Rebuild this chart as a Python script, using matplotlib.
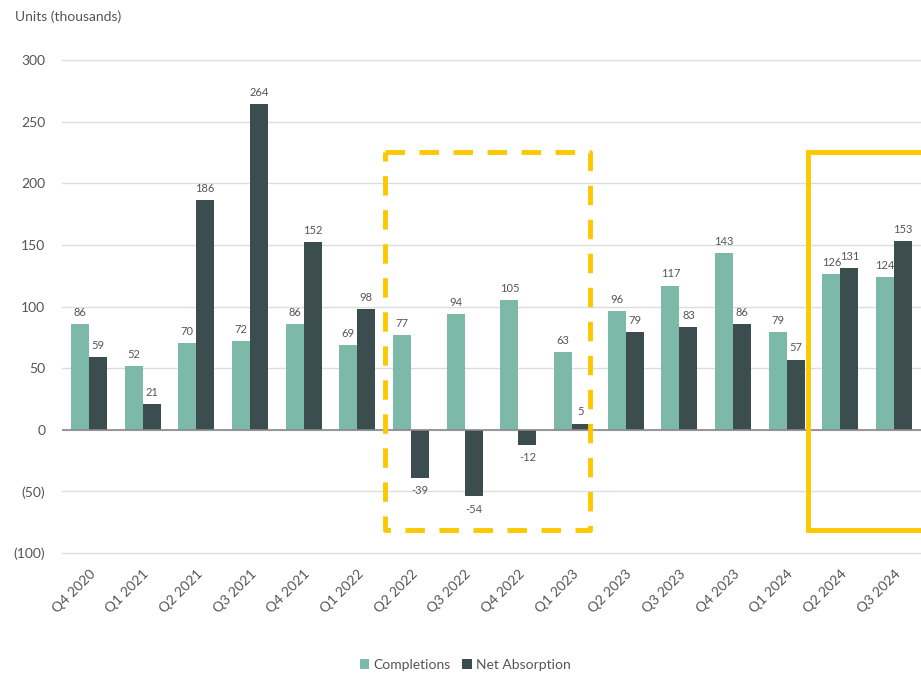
import matplotlib
matplotlib.use("Agg")
import matplotlib.pyplot as plt
import numpy as np

categories = ["Q4 2020", "Q1 2021", "Q2 2021", "Q3 2021", "Q4 2021", "Q1 2022",
              "Q2 2022", "Q3 2022", "Q4 2022", "Q1 2023", "Q2 2023", "Q3 2023",
              "Q4 2023", "Q1 2024", "Q2 2024", "Q3 2024"]
completions = [86, 52, 70, 72, 86, 69, 77, 94, 105, 63, 96, 117, 143, 79, 126, 124]
net_absorption = [59, 21, 186, 264, 152, 98, -39, -54, -12, 5, 79, 83, 86, 57, 131, 153]
yticks = [-100, -50, 0, 50, 100, 150, 200, 250, 300]
ytick_labels = ["(100)", "(50)", "0", "50", "100", "150", "200", "250", "300"]

plt.rcParams['font.family'] = ['Lato', 'DejaVu Sans']

c_comp = "#7db9a8"
c_net = "#3c4d4f"
yellow = "#fcc800"
txt = "#555555"

fig = plt.figure(figsize=(9.21, 6.74), dpi=100)
ax = fig.add_axes([62/921, 119/674, 859/921, 497/674])

x = np.arange(len(categories))
w = 0.335
ax.bar(x - w/2, completions, w, color=c_comp, label="Completions", zorder=3)
ax.bar(x + w/2, net_absorption, w, color=c_net, label="Net Absorption", zorder=3)

for i, v in enumerate(completions):
    ax.text(x[i] - w/2, v + 5, str(v), ha="center", va="bottom", fontsize=8, color=txt)
for i, v in enumerate(net_absorption):
    if v >= 0:
        ax.text(x[i] + w/2, v + 5, str(v), ha="center", va="bottom", fontsize=8, color=txt)
    else:
        ax.text(x[i] + w/2, v - 6, str(v), ha="center", va="top", fontsize=8, color=txt)

ax.set_xlim(-0.5, len(categories) - 0.5)
ax.set_ylim(-101.5, 301.5)
ax.set_yticks(yticks)
ax.set_yticklabels(ytick_labels)
ax.set_xticks(x)
ax.set_xticklabels(categories, rotation=45, ha="right", rotation_mode="anchor")
ax.tick_params(axis="both", length=0, colors=txt, labelsize=10)
ax.tick_params(axis="y", pad=12)
ax.tick_params(axis="x", pad=9)
for s in ax.spines.values():
    s.set_visible(False)
ax.grid(axis="y", color="#dddddd", linewidth=1, zorder=0)
ax.axhline(0, color="#888888", linewidth=1.2, zorder=4)

# highlight boxes
ax.plot([5.51, 9.33, 9.33, 5.51, 5.51], [225, 225, -81, -81, 225],
        color=yellow, linewidth=3.5, linestyle=(0, (4, 3)), clip_on=False, zorder=5)
ax.plot([17, 13.39, 13.39, 17], [225, 225, -81, -81],
        color=yellow, linewidth=3.5, clip_on=False, zorder=5, solid_joinstyle="miter")

fig.text(15/921, 1 - 17/674, "Units (thousands)", ha="left", va="center", fontsize=10, color=txt)

leg = fig.legend(loc="center", bbox_to_anchor=(465/921, 1 - 665/674), ncol=2, frameon=False,
                 fontsize=10, handlelength=0.7, handleheight=0.7, handletextpad=0.3,
                 columnspacing=0.8)
for t in leg.get_texts():
    t.set_color(txt)

fig.savefig("out.png", dpi=100)
